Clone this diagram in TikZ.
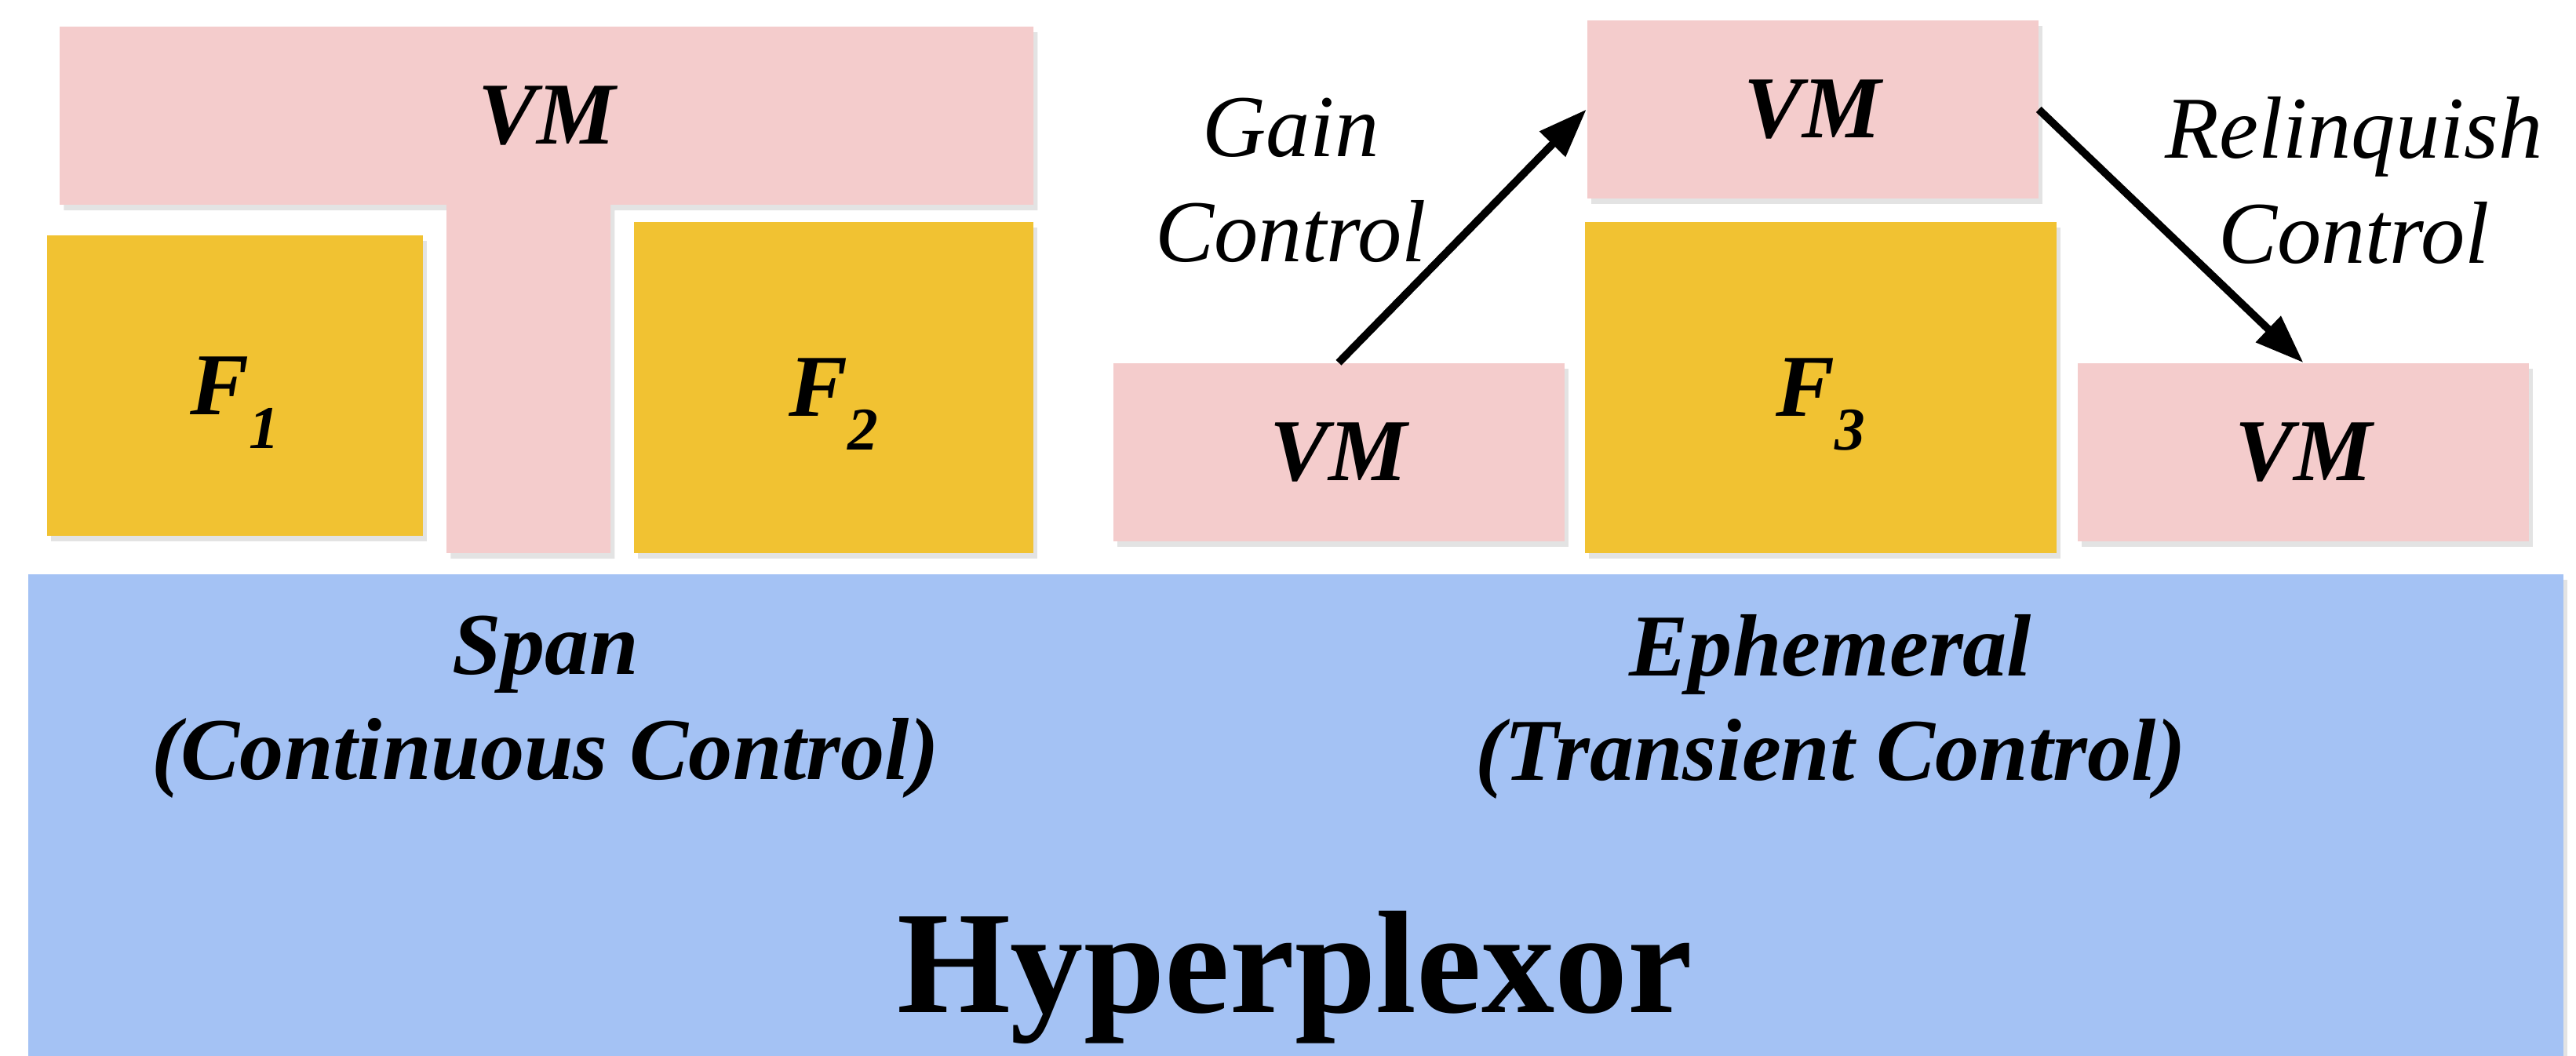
\documentclass[tikz,border=0pt]{standalone}
\usepackage{fontspec}
\setmainfont{Liberation Serif}
\usetikzlibrary{arrows.meta}
\usetikzlibrary{shadows}
\definecolor{vmpink}{HTML}{F4CCCC}
\definecolor{fyellow}{HTML}{F1C232}
\definecolor{hostblue}{HTML}{A4C2F4}
\tikzset{box/.style = {inner sep = 0, drop shadow = {shadow xshift = 1.5pt, shadow yshift = -2pt, opacity = 0.22}}}
\tikzset{vm/.style = {box, fill = vmpink, minimum width = 5.75cm, minimum height = 2.27cm}}
\tikzset{fn/.style = {box, fill = fyellow}}
\tikzset{lbl/.style = {font = \fontsize{32}{38}\selectfont\bfseries\itshape, align = center}}
\tikzset{ctrl/.style = {font = \fontsize{32}{38}\selectfont\itshape, align = center}}
\tikzset{ctrlarrow/.style = {line width = 2.8pt, -{Triangle[length = 0.62cm, width = 0.44cm]}}}
\newcommand\fsub[1]{\smash{\raisebox{-0.38em}{\fontsize{22}{22}\selectfont #1}}}

\begin{document}
\begin{tikzpicture}
  \useasboundingbox (0, 0) rectangle (32.83, 13.46);

  \node [box, fill = hostblue, minimum width = 32.31cm, minimum height = 6.14cm] (host) at (16.515, 3.07) {};
  \node [font = \fontsize{53}{60}\selectfont\bfseries, anchor = base] (hyp) at (16.50, 0.55) {Hyperplexor};

  % span: one VM reaching down between two functions
  \path [box, fill = vmpink] (0.76, 13.12) -- (13.17, 13.12) -- (13.17, 10.85) -- (7.78, 10.85)
    -- (7.78, 6.41) -- (5.69, 6.41) -- (5.69, 10.85) -- (0.76, 10.85) -- cycle;
  \node [lbl] (spanvm) at (6.965, 11.985) {VM};
  \node [fn, lbl, minimum width = 4.79cm, minimum height = 3.83cm] (f1) at (2.995, 8.545) {F\fsub{1}};
  \node [fn, lbl, minimum width = 5.09cm, minimum height = 4.22cm] (f2) at (10.625, 8.52) {F\fsub{2}};
  \node [lbl] (span) at (6.95, 4.45) {Span\\(Continuous Control)};

  % ephemeral: the VM hops over a function
  \node [vm, lbl] (vmold) at (17.06, 7.695) {VM};
  \node [vm, lbl] (vmtop) at (23.10, 12.065) {VM};
  \node [vm, lbl] (vmnew) at (29.355, 7.695) {VM};
  \node [fn, lbl, minimum width = 6.01cm, minimum height = 4.22cm] (f3) at (23.205, 8.52) {F\fsub{3}};
  \node [lbl] (ephemeral) at (23.33, 4.45) {Ephemeral\\(Transient Control)};

  \draw [ctrlarrow] (vmold.north) -- (vmtop.west);
  \draw [ctrlarrow] (vmtop.east) -- (vmnew.north);
  \node [ctrl] (gain) at (16.45, 11.16) {Gain\\Control};
  \node [ctrl] (relinquish) at (30.00, 11.16) {Relinquish\\Control};
\end{tikzpicture}
\end{document}
